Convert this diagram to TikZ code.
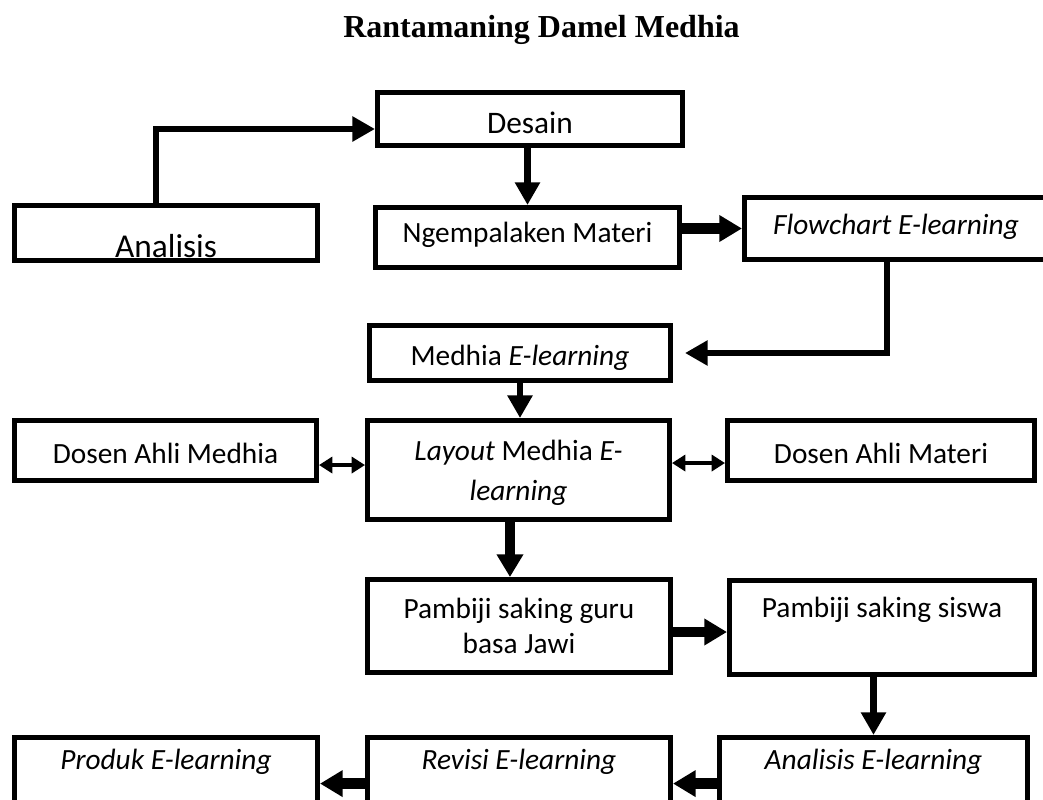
\documentclass[tikz,border=0pt]{standalone}
\usepackage{fontspec}
\setmainfont{Carlito}
\newfontfamily\titlefont{Liberation Serif}
\usetikzlibrary{arrows.meta,
                positioning
            }

\begin{document}
\begin{tikzpicture}[x=0.75pt, y=-0.75pt,
        box/.style={draw, line width=3.75pt, inner xsep=2pt, inner ysep=0pt, align=center,
                    font=\fontsize{22}{27}\selectfont},
        arr/.style={line width=5pt, -{Triangle[length=17pt,width=18pt]}},
        fat/.style={line width=8pt, -{Triangle[length=17pt,width=19pt]}},
        dbl/.style={line width=2.5pt, {Triangle[length=10pt,width=12pt]}-{Triangle[length=10pt,width=12pt]}}
    ]
            \useasboundingbox (0, 0) rectangle (1043, 800);
            \fill[white] (0, 0) rectangle (1043, 800);
            \clip (0, 0) rectangle (1043, 800);
            \node[font=\titlefont\bfseries\fontsize{24}{28}\selectfont, anchor=base] (title) at (541.5, 37) {Rantamaning Damel Medhia};
            % top part
            \node[box, minimum width=228.75pt, text height=30.4pt, text depth=9.4pt, font=\fontsize{23.5}{28}\selectfont] (desain) at (530, 119) {Desain};
            \node[box, minimum width=227.25pt, text height=38.6pt, text depth=2.6pt, font=\fontsize{25}{28}\selectfont] (analisis) at (166, 233) {Analisis};
            \node[box, minimum width=228pt, text height=26.6pt, text depth=18.4pt] (materi) at (527.5, 237.5) {Ngempalaken Materi};
            \node[box, minimum width=227.25pt, text height=28.1pt, text depth=18.4pt] (flowchart) at (896, 228.5) {\textit{Flowchart E-learning}};
            \node[box, minimum width=225.75pt, text height=29.6pt, text depth=11.6pt] (medhia) at (520, 353) {Medhia \textit{E-learning}};
            % validasi
            \node[box, minimum width=226.5pt, text height=31.9pt, text depth=13.1pt] (dosenmedhia) at (165.5, 450.5) {Dosen Ahli Medhia};
            \node[box, minimum width=226.5pt, text height=59.6pt, text depth=14.6pt, font=\fontsize{22}{30}\selectfont] (layout) at (518.5, 470) {\textit{Layout} Medhia \textit{E-}\\\textit{learning}};
            \node[box, minimum width=230.25pt, text height=31.9pt, text depth=13.1pt] (dosenmateri) at (881, 450.5) {Dosen Ahli Materi};
            \node[box, minimum width=227.25pt, text height=55.1pt, text depth=14.6pt, font=\fontsize{22}{26.25}\selectfont] (guru) at (519, 626) {Pambiji saking guru\\basa Jawi};
            \node[box, minimum width=228.75pt, text height=28.1pt, text depth=42.4pt] (siswa) at (882, 627.5) {Pambiji saking siswa};
            % bottom row
            \node[box, minimum width=227.25pt, text height=24.4pt, text depth=48.8pt] (produk) at (166, 786.25) {\textit{Produk E-learning}};
            \node[box, minimum width=227.25pt, text height=24.4pt, text depth=48.8pt] (revisi) at (519, 786.25) {\textit{Revisi E-learning}};
            \node[box, minimum width=231pt, text height=24.4pt, text depth=48.8pt] (analisise) at (873.5, 786.25) {\textit{Analisis E-learning}};
            % connectors
            \draw[arr] ([xshift=-7.5pt]analisis.north) |- ([yshift=-7.5pt]desain.west);
            \draw[arr] (desain.south -| materi) -- (materi.north);
            \draw[fat] (materi.east |- flowchart) -- (flowchart.west);
            \draw[arr, shorten >=9pt] ([xshift=-6.75pt]flowchart.south) |- (medhia.east);
            \draw[arr] (medhia.south) -- (medhia.south |- layout.north);
            \draw[dbl] ([yshift=-10.9pt]dosenmedhia.east) -- ([yshift=-10.9pt]dosenmedhia.east -| layout.west);
            \draw[dbl] ([yshift=-9.4pt]dosenmateri.west) -- ([yshift=-9.4pt]dosenmateri.west -| layout.east);
            \draw[fat] ([xshift=-6.4pt]layout.south) -- ([xshift=-6.4pt]layout.south |- guru.north);
            \draw[fat] ([yshift=-4.5pt]guru.east) -- ([yshift=-4.5pt]guru.east -| siswa.west);
            \draw[arr] (siswa.south -| analisise) -- (analisise.north);
            \draw[fat] ([yshift=2pt]analisise.west) -- ([yshift=2pt]analisise.west -| revisi.east);
            \draw[fat] ([yshift=2pt]revisi.west) -- ([yshift=2pt]revisi.west -| produk.east);
        \end{tikzpicture}
\end{document}
